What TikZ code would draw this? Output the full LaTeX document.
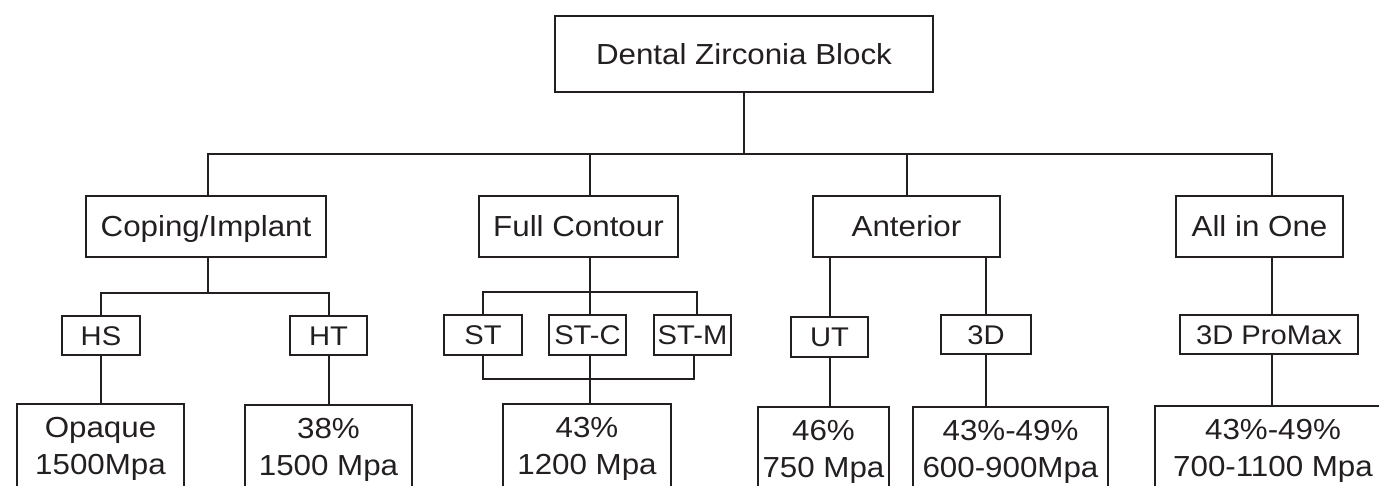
\documentclass[tikz,border=0pt]{standalone}
\usepackage{fontspec}
\setmainfont{Liberation Sans}[FakeStretch=1.08]
\definecolor{ink}{HTML}{231F20}
\tikzset{
  box/.style={draw, rectangle, inner sep=0pt, line width=2pt},
  lvone/.style={box, font=\fontsize{29}{35}\selectfont, text height=21pt, text depth=0pt, minimum height=61pt},
  lvtwo/.style={box, font=\fontsize{27}{32}\selectfont, text height=19.5pt, text depth=0pt, minimum height=39pt},
  leaf/.style={box, anchor=north, align=center, font=\fontsize{29}{37}\selectfont, minimum height=120pt, text height=70pt, text depth=50pt},
  wire/.style={line width=2pt}
}
\begin{document}
\begin{tikzpicture}[x=1pt,y=-1pt,color=ink]
\useasboundingbox (0,0) rectangle (1379,486);
\begin{scope}
\clip (0,0) rectangle (1379,486);
% root
\node[box, font=\fontsize{29}{35}\selectfont, text height=21pt, text depth=0pt, minimum width=378pt, minimum height=76pt] (root) at (744,54) {Dental Zirconia Block};
% level one
\node[lvone, minimum width=240pt] (cop) at (206,226.5) {Coping/Implant};
\node[lvone, minimum width=199pt] (full) at (578.5,226.5) {Full Contour};
\node[lvone, minimum width=187pt] (ant) at (906.5,226.5) {Anterior};
\node[lvone, minimum width=167pt] (aio) at (1259.5,226.5) {All in One};
% level two
\node[lvtwo, minimum width=78pt] (hs) at (101,335.5) {HS};
\node[lvtwo, minimum width=77pt] (ht) at (328.5,335.5) {HT};
\node[lvtwo, minimum width=78pt] (st) at (483,335) {ST};
\node[lvtwo, minimum width=77pt] (stc) at (587.5,335) {ST-C};
\node[lvtwo, minimum width=77pt] (stm) at (692.5,335) {ST-M};
\node[lvtwo, minimum width=77pt] (ut) at (829.5,337) {UT};
\node[lvtwo, minimum width=90pt] (td) at (986,334.5) {3D};
\node[lvtwo, minimum width=178pt] (pm) at (1269,334.5) {3D ProMax};
% leaves
\node[leaf, minimum width=167pt] (l1) at (100.5,403) {Opaque\\1500Mpa};
\node[leaf, minimum width=167pt] (l2) at (328.5,404) {38\%\\1500 Mpa};
\node[leaf, minimum width=168pt] (l3) at (587,403) {43\%\\1200 Mpa};
\node[leaf, minimum width=131pt] (l4) at (823.5,406) {46\%\\750 Mpa};
\node[leaf, minimum width=195pt] (l5) at (1010.5,406) {43\%-49\%\\600-900Mpa};
\node[leaf, minimum width=236pt] (l6) at (1273,405) {43\%-49\%\\700-1100 Mpa};
% helper coordinates
\coordinate (bus) at (0,154);
\coordinate (xa) at (208,0);
\coordinate (xb) at (590,0);
\coordinate (xc) at (907,0);
\coordinate (xd) at (1272,0);
\coordinate (cb) at (0,293);
\coordinate (fb) at (0,292);
\coordinate (fl) at (0,379);
\coordinate (xm) at (697,0);
\coordinate (xn) at (694,0);
% connectors
\draw[wire] (root.south) -- (root.south |- bus);
\draw[wire] (cop.north -| xa) -- (xa |- bus) -- (xd |- bus) -- (aio.north -| xd);
\draw[wire] (full.north -| xb) -- (xb |- bus);
\draw[wire] (ant.north -| xc) -- (xc |- bus);
% coping branch
\draw[wire] (cop.south -| xa) -- (xa |- cb);
\draw[wire] (hs.north) -- (hs.north |- cb) -- (ht.north |- cb) -- (ht.north);
\draw[wire] (hs.south) -- (hs.south |- l1.north);
\draw[wire] (ht.south) -- (ht.south |- l2.north);
% full contour branch
\draw[wire] (full.south -| xb) -- (xb |- fb);
\draw[wire] (st.north) -- (st.north |- fb) -- (xm |- fb) -- (stm.north -| xm);
\draw[wire] (stc.north -| xb) -- (xb |- fb);
\draw[wire] (st.south) -- (st.south |- fl) -- (xn |- fl) -- (stm.south -| xn);
\draw[wire] (stc.south -| xb) -- (l3.north -| xb);
% anterior branch
\draw[wire] (ut.north |- ant.south) -- (ut.north);
\draw[wire] (td.north |- ant.south) -- (td.north);
\draw[wire] (ut.south) -- (ut.south |- l4.north);
\draw[wire] (td.south) -- (td.south |- l5.north);
% all in one branch
\draw[wire] (aio.south -| xd) -- (pm.north -| xd);
\draw[wire] (pm.south -| xd) -- (l6.north -| xd);
\end{scope}
\end{tikzpicture}
\end{document}
